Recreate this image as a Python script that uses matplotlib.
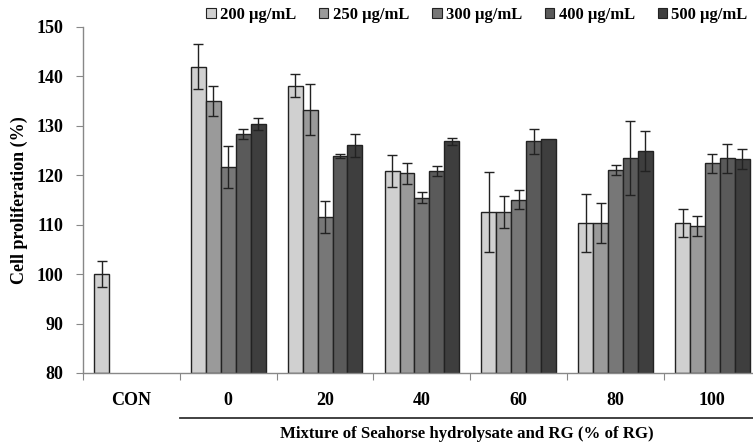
import matplotlib
matplotlib.use("Agg")
import matplotlib.pyplot as plt
from matplotlib.patches import Patch
from matplotlib.transforms import blended_transform_factory
import numpy as np

plt.rcParams['font.family'] = ['Liberation Serif', 'DejaVu Serif']
plt.rcParams['font.weight'] = 'bold'

categories = ["CON", "0", "20", "40", "60", "80", "100"]
series = ["200 μg/mL", "250 μg/mL", "300 μg/mL", "400 μg/mL", "500 μg/mL"]

con_value = 100.0
con_err = 2.7

# values for groups 0,20,40,60,80,100
v200 = [142.0, 138.1, 120.9, 112.5, 110.4, 110.4]
v250 = [135.0, 133.3, 120.4, 112.6, 110.4, 109.7]
v300 = [121.7, 111.5, 115.5, 115.1, 121.1, 122.4]
v400 = [128.4, 123.9, 120.9, 126.9, 123.5, 123.4]
v500 = [130.4, 126.1, 126.9, 127.3, 124.9, 123.3]

e200 = [4.5, 2.3, 3.2, 8.1, 5.9, 2.8]
e250 = [3.1, 5.1, 2.1, 3.3, 4.0, 2.0]
e300 = [4.2, 3.2, 1.2, 1.9, 1.0, 2.0]
e400 = [1.0, 0.5, 1.0, 2.5, 7.4, 3.0]
e500 = [1.2, 2.3, 0.7, 0.0, 4.0, 2.0]

colors = ["#d0d0d0", "#9a9a9a", "#777777", "#5a5a5a", "#3e3e3e"]

values = [v200, v250, v300, v400, v500]
errors = [e200, e250, e300, e400, e500]

W, H = 753, 442
fig = plt.figure(figsize=(W / 100, H / 100), dpi=100)
ax = fig.add_axes([83 / W, 1 - 373 / H, 677.8 / W, 346 / H])

bw = 0.154
# CON bar
ax.bar(0 - 2 * bw, con_value - 80, bottom=80, width=bw, color=colors[0],
       edgecolor="#222222", linewidth=1.0, zorder=2)
ax.errorbar(0 - 2 * bw, con_value, yerr=con_err, fmt="none", ecolor="#222222",
            elinewidth=1.0, capsize=3.5, capthick=1.0, zorder=3)

xg = np.arange(1, 7)
for i in range(5):
    x = xg + (i - 2) * bw
    vals = np.array(values[i])
    ax.bar(x, vals - 80, bottom=80, width=bw, color=colors[i],
           edgecolor="#222222", linewidth=1.0, zorder=2)
    errs = np.array(errors[i])
    mask = errs > 0
    ax.errorbar(x[mask], vals[mask], yerr=errs[mask], fmt="none", ecolor="#222222",
                elinewidth=1.0, capsize=3.5, capthick=1.0, zorder=3)

ax.set_xlim(-0.5, 6.5)
ax.set_ylim(80, 150)
ax.set_yticks(np.arange(80, 151, 10))
ax.tick_params(axis='y', direction='out', length=5, color="#888888",
               labelsize=13, pad=9)
ax.set_xticks(np.arange(-0.5, 6.6, 1.0))
ax.set_xticklabels([])
ax.set_xticks(np.arange(0, 7), minor=True)
ax.set_xticklabels(categories, minor=True)
ax.tick_params(axis='x', which='major', direction='out', length=5, color="#888888")
ax.tick_params(axis='x', which='minor', length=0, labelsize=13, pad=14)
for lab in ax.get_yticklabels() + ax.get_xticklabels(minor=True):
    lab.set_fontweight('bold')

for s in ['top', 'right']:
    ax.spines[s].set_visible(False)
for s in ['left', 'bottom']:
    ax.spines[s].set_color("#888888")
    ax.spines[s].set_linewidth(1.0)

ax.set_ylabel("Cell proliferation (%)", fontsize=13, fontweight='bold', labelpad=6)

trans = blended_transform_factory(ax.transData, ax.transAxes)
ax.plot([0.5, 6.6], [-0.13, -0.13], transform=trans, color="#333333",
        lw=1.3, clip_on=False)
ax.text(3.46, -0.177, "Mixture of Seahorse hydrolysate and RG (% of RG)",
        transform=trans, ha='center', va='center', fontsize=12.1, fontweight='bold')

handles = [Patch(facecolor=c, edgecolor="#222222", linewidth=0.8) for c in colors]
fig.legend(handles, series, loc='center', bbox_to_anchor=(477 / W, 1 - 15 / H),
           ncol=5, frameon=False, handlelength=0.55, handleheight=0.55,
           handletextpad=0.25, columnspacing=1.4, prop={'weight': 'bold', 'size': 12})

fig.savefig("out.png", dpi=100)
